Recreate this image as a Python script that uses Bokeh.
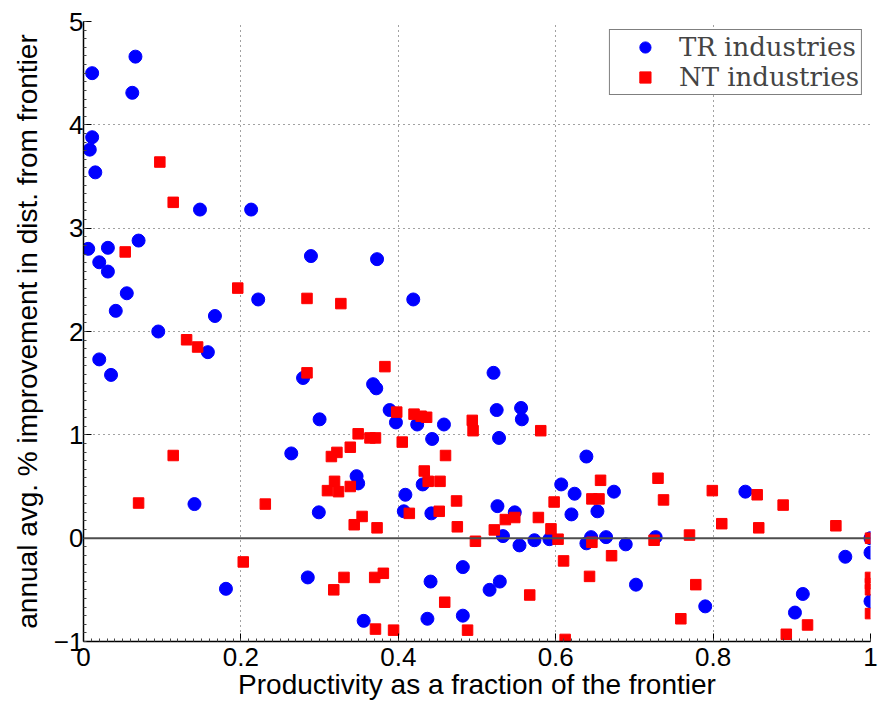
import numpy as np
from bokeh.plotting import figure
from bokeh.models import (ColumnDataSource, FixedTicker, Span, Legend, LegendItem)
from bokeh.embed import file_html
from bokeh.resources import INLINE

# Traded (TR) industries: productivity relative to frontier vs. annual improvement
tr_x = [0.011, 0.066, 0.062, 0.011, 0.008, 0.015, 0.148, 0.213, 0.006, 0.031,
        0.070, 0.020, 0.031, 0.055, 0.041, 0.222, 0.167, 0.095, 0.158, 0.020,
        0.035, 0.264, 0.141, 0.181, 0.289, 0.373, 0.419, 0.279, 0.368, 0.372,
        0.389, 0.397, 0.424, 0.458, 0.443, 0.521, 0.525, 0.556, 0.557, 0.528,
        0.300, 0.347, 0.349, 0.299, 0.409, 0.407, 0.431, 0.442, 0.526, 0.548,
        0.533, 0.554, 0.573, 0.592, 0.285, 0.441, 0.482, 0.516, 0.529, 0.356,
        0.437, 0.482, 0.639, 0.607, 0.624, 0.674, 0.620, 0.653, 0.645, 0.664,
        0.639, 0.689, 0.702, 0.727, 0.790, 0.841, 0.968, 0.914, 0.904, 1.000,
        1.000, 1.000]
tr_y = [4.50, 4.66, 4.31, 3.88, 3.76, 3.54, 3.18, 3.18, 2.80, 2.81,
        2.88, 2.67, 2.58, 2.37, 2.20, 2.31, 2.15, 2.00, 1.80, 1.73,
        1.58, 0.82, 0.33, -0.49, 2.73, 2.70, 2.31, 1.55, 1.49, 1.45,
        1.24, 1.12, 1.10, 1.10, 0.96, 1.60, 1.24, 1.26, 1.15, 0.97,
        1.15, 0.60, 0.53, 0.25, 0.42, 0.26, 0.52, 0.24, 0.31, 0.25,
        0.02, -0.07, -0.02, -0.01, -0.38, -0.42, -0.28, -0.50, -0.42, -0.80,
        -0.78, -0.75, 0.79, 0.52, 0.43, 0.45, 0.23, 0.26, 0.01, 0.01,
        -0.05, -0.06, -0.45, 0.01, -0.66, 0.45, -0.18, -0.54, -0.72, 0.00,
        -0.14, -0.61]

# Non-traded (NT) industries
nt_x = [0.097, 0.114, 0.053, 0.196, 0.131, 0.145, 0.284, 0.327, 0.114, 0.070,
        0.231, 0.203, 0.284, 0.383, 0.398, 0.420, 0.429, 0.436, 0.494, 0.495,
        0.581, 0.349, 0.364, 0.371, 0.405, 0.339, 0.322, 0.315, 0.460, 0.433,
        0.438, 0.453, 0.319, 0.310, 0.324, 0.339, 0.474, 0.414, 0.452, 0.354,
        0.344, 0.373, 0.475, 0.498, 0.522, 0.536, 0.548, 0.578, 0.594, 0.331,
        0.318, 0.370, 0.381, 0.459, 0.567, 0.371, 0.394, 0.488, 0.657, 0.646,
        0.655, 0.598, 0.603, 0.646, 0.610, 0.671, 0.643, 0.612, 0.730, 0.737,
        0.725, 0.770, 0.778, 0.759, 0.799, 0.811, 0.856, 0.858, 0.889, 0.893,
        0.920, 0.956, 1.000, 1.000, 1.000, 1.000, 1.000]
nt_y = [3.64, 3.25, 2.77, 2.42, 1.92, 1.85, 2.32, 2.27, 0.80, 0.34,
        0.33, -0.23, 1.60, 1.66, 1.22, 1.20, 1.18, 1.17, 1.14, 1.04,
        1.04, 1.01, 0.97, 0.97, 0.93, 0.88, 0.83, 0.79, 0.80, 0.65,
        0.55, 0.55, 0.55, 0.46, 0.45, 0.50, 0.36, 0.24, 0.26, 0.21,
        0.13, 0.10, 0.11, -0.03, 0.08, 0.18, 0.20, 0.20, 0.09, -0.38,
        -0.50, -0.38, -0.34, -0.62, -0.55, -0.88, -0.89, -0.89, 0.56, 0.38,
        0.38, 0.35, -0.01, -0.04, -0.22, -0.17, -0.37, -0.98, 0.58, 0.37,
        -0.02, 0.03, -0.45, -0.78, 0.46, 0.14, 0.42, 0.10, 0.32, -0.93,
        -0.84, 0.12, 0.00, -0.38, -0.44, -0.50, -0.73]

x_ticks = [0, 0.2, 0.4, 0.6, 0.8, 1]
x_tick_labels = ["0", "0.2", "0.4", "0.6", "0.8", "1"]
y_ticks = [-1, 0, 1, 2, 3, 4, 5]
y_tick_labels = ["\u22121", "0", "1", "2", "3", "4", "5"]

label_font = "Liberation Sans"
legend_font = "DejaVu Serif"

p = figure(width=878, height=706, x_range=(0, 1), y_range=(-1, 5),
           output_backend="svg", toolbar_location=None,
           min_border_left=83, min_border_right=8,
           min_border_top=21, min_border_bottom=65)
p.outline_line_color = None
p.background_fill_color = "white"
p.border_fill_color = "white"

# axes: ticks pointing inward, Helvetica-like labels
p.xaxis.ticker = FixedTicker(ticks=x_ticks,
                             minor_ticks=list(np.round(np.arange(0, 1.0001, 0.01), 4)))
p.yaxis.ticker = FixedTicker(ticks=y_ticks,
                             minor_ticks=list(np.round(np.arange(-1, 5.0001, 1 / 12), 4)))
p.xaxis.major_label_overrides = dict(zip(x_ticks, x_tick_labels))
p.yaxis.major_label_overrides = dict(zip(y_ticks, y_tick_labels))

for ax in (p.xaxis, p.yaxis):
    ax.major_tick_in = 8
    ax.major_tick_out = 0
    ax.minor_tick_in = 3
    ax.minor_tick_out = 0
    ax.axis_line_color = "black"
    ax.axis_line_width = 1.5
    ax.major_tick_line_color = "black"
    ax.minor_tick_line_color = "#444444"
    ax.major_label_text_font = label_font
    ax.major_label_text_font_size = "26px"
    ax.major_label_text_color = "black"
    ax.axis_label_text_font = label_font
    ax.axis_label_text_font_size = "28px"
    ax.axis_label_text_font_style = "normal"
    ax.axis_label_text_color = "black"

p.xaxis.axis_label = "Productivity as a fraction of the frontier"
p.yaxis.axis_label = "annual avg. % improvement in dist. from frontier"
p.xaxis.major_label_standoff = 6
p.xaxis.axis_label_standoff = 0
p.yaxis.major_label_standoff = 0
p.yaxis.axis_label_standoff = 8

# dotted grid
for g in (p.xgrid, p.ygrid):
    g.grid_line_color = "#444444"
    g.grid_line_dash = "1 4"
    g.grid_line_width = 1
p.xgrid.ticker = FixedTicker(ticks=x_ticks)
p.ygrid.ticker = FixedTicker(ticks=y_ticks)

# zero reference line
p.add_layout(Span(location=0, dimension="width", line_color="#4d4d4d", line_width=2))

tr_src = ColumnDataSource(dict(x=tr_x, y=tr_y))
nt_src = ColumnDataSource(dict(x=nt_x, y=nt_y))

r_tr = p.scatter("x", "y", source=tr_src, marker="circle", size=13,
                 fill_color="#0000ff", line_color="#0000ff")
r_nt = p.scatter("x", "y", source=nt_src, marker="square", size=10.5,
                 fill_color="#ff0000", line_color="#ff0000")

legend = Legend(items=[LegendItem(label="TR industries", renderers=[r_tr]),
                       LegendItem(label="NT industries", renderers=[r_nt])],
                location="top_right", margin=8, padding=2, spacing=0,
                glyph_width=66, glyph_height=28, label_standoff=1,
                label_text_font=legend_font, label_text_font_size="26px",
                border_line_color="black", border_line_width=1.5,
                background_fill_color="white", background_fill_alpha=1)
p.add_layout(legend)

open("out.html", "w").write(file_html(p, INLINE))
